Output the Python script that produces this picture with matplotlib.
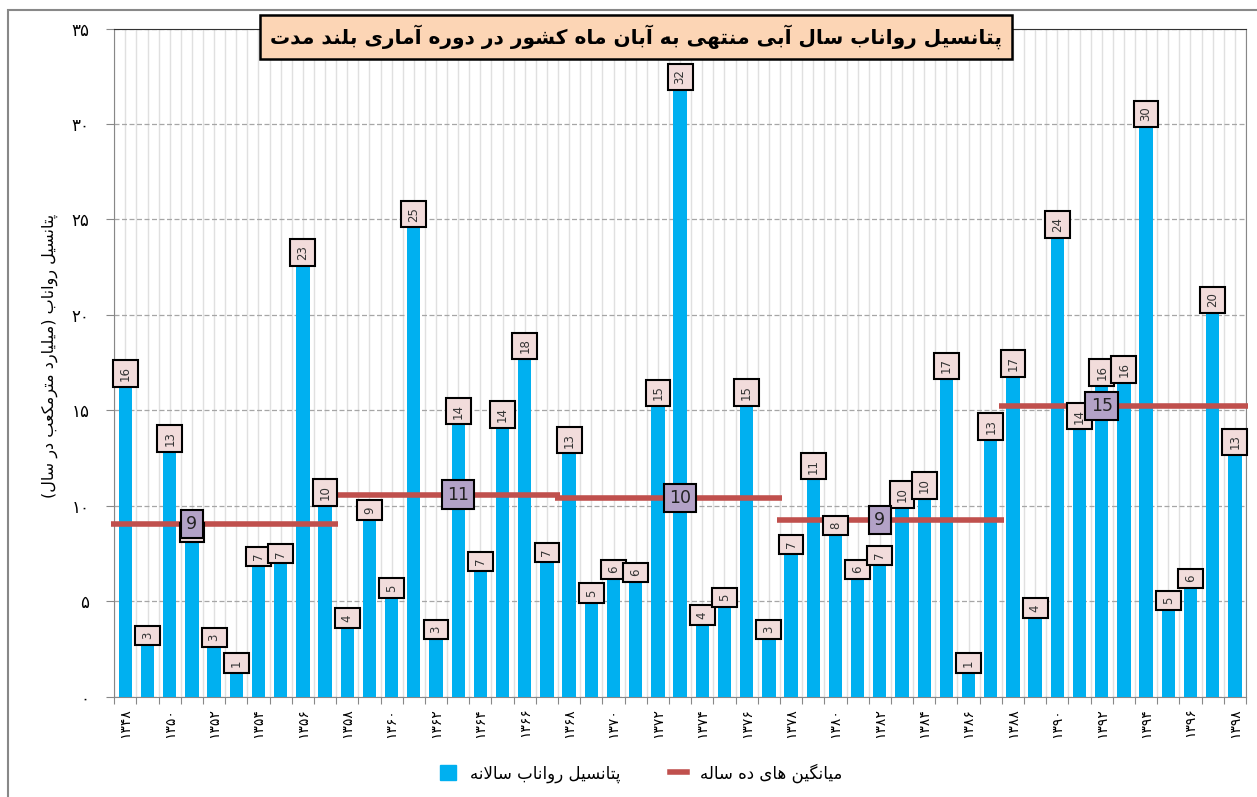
import numpy as np
import matplotlib
matplotlib.use("Agg")
import matplotlib.pyplot as plt
from matplotlib.patches import Patch, Rectangle
from matplotlib.lines import Line2D

# داده ها - پتانسیل رواناب سالانه (میلیارد مترمکعب)
years = list(range(1348, 1399))
runoff = [16.26, 2.71, 12.85, 8.1, 2.62, 1.28, 6.87, 7.0, 22.6, 10.0,
          3.64, 9.3, 5.21, 24.6, 3.03, 14.28, 6.59, 14.09, 17.69, 7.06,
          12.76, 4.95, 6.17, 6.01, 15.23, 31.78, 3.8, 4.72, 15.26, 3.03,
          7.48, 11.4, 8.48, 6.17, 6.9, 9.91, 10.38, 16.64, 1.28, 13.48,
          16.76, 4.16, 24.07, 14.02, 16.31, 16.47, 29.84, 4.55, 5.7, 20.1,
          12.67]

# میانگین های ده ساله
avg_start = [1348, 1358, 1368, 1378, 1388]
avg_end = [1357, 1367, 1377, 1387, 1398]
avg_value = [9.06, 10.59, 10.4, 9.27, 15.24]
avg_label_year = [1351, 1363, 1373, 1382, 1392]

title = "پتانسیل رواناب سال آبی منتهی به آبان ماه کشور در دوره آماری بلند مدت"
ylabel = "پتانسیل رواناب (میلیارد مترمکعب در سال)"
legend_bar = "پتانسیل رواناب سالانه"
legend_line = "میانگین های ده ساله"

# شکل دهی حروف فارسی (matplotlib اتصال حروف و راست به چپ را انجام نمی دهد)
FORMS = {
    '\u0627': ('\uFE8D', '\uFE8E', None, None),
    '\u0622': ('\uFE81', '\uFE82', None, None),
    '\u0628': ('\uFE8F', '\uFE90', '\uFE91', '\uFE92'),
    '\u067E': ('\uFB56', '\uFB57', '\uFB58', '\uFB59'),
    '\u062A': ('\uFE95', '\uFE96', '\uFE97', '\uFE98'),
    '\u062F': ('\uFEA9', '\uFEAA', None, None),
    '\u0631': ('\uFEAD', '\uFEAE', None, None),
    '\u0633': ('\uFEB1', '\uFEB2', '\uFEB3', '\uFEB4'),
    '\u0634': ('\uFEB5', '\uFEB6', '\uFEB7', '\uFEB8'),
    '\u0639': ('\uFEC9', '\uFECA', '\uFECB', '\uFECC'),
    '\u06A9': ('\uFB8E', '\uFB8F', '\uFB90', '\uFB91'),
    '\u06AF': ('\uFB92', '\uFB93', '\uFB94', '\uFB95'),
    '\u0644': ('\uFEDD', '\uFEDE', '\uFEDF', '\uFEE0'),
    '\u0645': ('\uFEE1', '\uFEE2', '\uFEE3', '\uFEE4'),
    '\u0646': ('\uFEE5', '\uFEE6', '\uFEE7', '\uFEE8'),
    '\u0647': ('\uFEE9', '\uFEEA', '\uFEEB', '\uFEEC'),
    '\u0648': ('\uFEED', '\uFEEE', None, None),
    '\u06CC': ('\uFBFC', '\uFBFD', '\uFBFE', '\uFBFF'),
}


def joins_next(c):
    return c in FORMS and FORMS[c][2] is not None


def fa(s):
    out = []
    n = len(s)
    i = 0
    while i < n:
        c = s[i]
        prev = s[i - 1] if i > 0 else ''
        link_prev = joins_next(prev) and c in FORMS
        if c == '\u0644' and i + 1 < n and s[i + 1] == '\u0627':
            out.append('\uFEFC' if link_prev else '\uFEFB')
            i += 2
            continue
        if c not in FORMS:
            out.append(c)
            i += 1
            continue
        nxt = s[i + 1] if i + 1 < n else ''
        link_next = joins_next(c) and nxt in FORMS
        iso, fin, ini, med = FORMS[c]
        if link_prev and link_next:
            out.append(med)
        elif link_prev:
            out.append(fin)
        elif link_next:
            out.append(ini)
        else:
            out.append(iso)
        i += 1
    vis = ''.join(reversed(out))
    return vis.translate(str.maketrans('()', ')('))


def fa_num(v):
    return str(v).translate(str.maketrans('0123456789', '۰۱۲۳۴۵۶۷۸۹'))


plt.rcParams['font.family'] = ['DejaVu Sans']

fig = plt.figure(figsize=(12.57, 7.97), dpi=100)
ax = fig.add_axes([0.0909, 0.1258, 0.9003, 0.8384])

x = np.arange(len(years))
ax.bar(x, runoff, width=0.6, color='#00B0F0', zorder=3)

ax.set_xlim(-0.5, len(years) - 0.5)
ax.set_ylim(0, 35)

# خطوط شبکه
for gx in np.arange(-0.5, len(years), 0.5):
    ax.axvline(gx, color='#E0E0E0', lw=1.0, zorder=1)
ax.set_yticks(range(0, 36, 5))
ax.set_yticklabels([fa_num(v) for v in range(0, 36, 5)], fontsize=12)
ax.yaxis.grid(True, color='#A6A6A6', ls=(0, (4, 2)), lw=0.9, zorder=2)
ax.tick_params(axis='y', length=6, color='#888888', pad=12)

ax.set_xticks(np.arange(-0.5, len(years), 1.0))
ax.set_xticklabels([])
ax.tick_params(axis='x', which='major', length=5, color='#888888')
ax.set_xticks(x[::2], minor=True)
ax.set_xticklabels([fa_num(y) for y in years[::2]], minor=True, rotation=90, fontsize=10)
ax.tick_params(axis='x', which='minor', length=0, pad=8)

for sp in ['left', 'bottom', 'right']:
    ax.spines[sp].set_color('#888888')
ax.spines['top'].set_color('#333333')

# برچسب مقادیر
for xi, v in zip(x, runoff):
    ax.annotate(str(int(round(v))), (xi, v), xytext=(0, 4), textcoords='offset points',
                ha='center', va='bottom', rotation=90, fontsize=8.5, color='#333333',
                bbox=dict(boxstyle='square,pad=0.5', fc='#F2DCDB', ec='black', lw=1.5),
                zorder=5)

# میانگین ده ساله
for s, e, v, ly in zip(avg_start, avg_end, avg_value, avg_label_year):
    xs = years.index(s)
    xe = years.index(e)
    ax.plot([xs - 0.65, xe + 0.6], [v, v], color='#C0504D', lw=4, zorder=4,
            solid_capstyle='butt', clip_on=False)
    ax.text(years.index(ly), v, str(int(round(v))), ha='center', va='center', fontsize=12.5,
            color='#222222', zorder=6,
            bbox=dict(boxstyle='square,pad=0.3', fc='#B3A2C7', ec='black', lw=1.5))

fig.text(50 / 1257, 1 - 356 / 797, fa(ylabel), rotation=90, ha='center', va='center', fontsize=11.5)

fig.text(636 / 1257, 1 - 37 / 797, fa(title), ha='center', va='center', fontsize=14.5,
         fontweight='bold',
         bbox=dict(boxstyle='square,pad=0.5', fc='#FCD5B5', ec='black', lw=1.8))

handles = [Patch(color='#00B0F0'), Line2D([], [], color='#C0504D', lw=4)]
fig.legend(handles, [fa(legend_bar), fa(legend_line)], loc='center', bbox_to_anchor=(0.51, 0.03),
           ncol=2, frameon=False, fontsize=12, handlelength=1.0, handleheight=1.0,
           columnspacing=3.0)

fig.patches.append(Rectangle((8 / 1257, -0.1), 2, 1.1 - 10 / 797, transform=fig.transFigure,
                             fill=False, ec='#888888', lw=1.5))

fig.savefig('out.png', dpi=100)
